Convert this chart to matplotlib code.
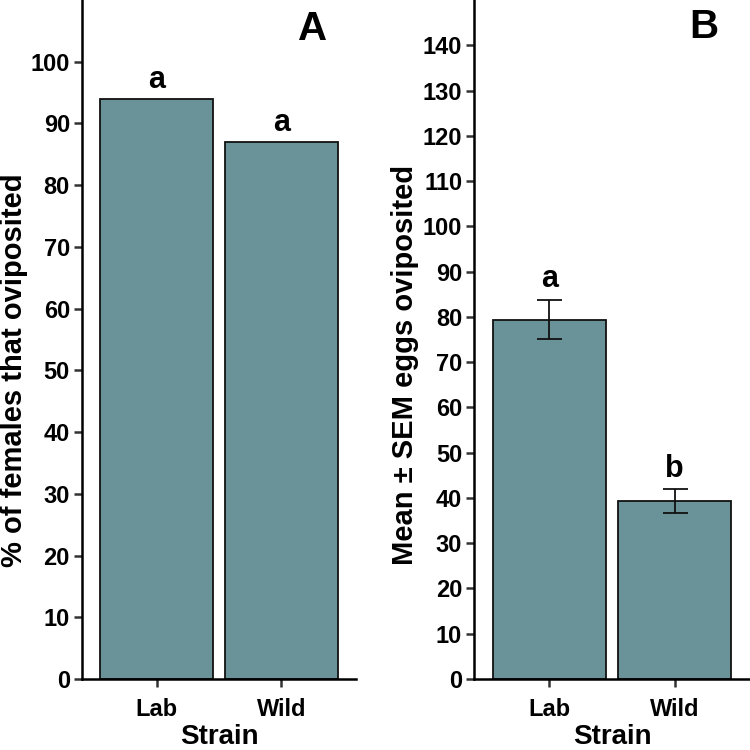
import matplotlib
matplotlib.use('Agg')
import matplotlib.pyplot as plt

strains = ['Lab', 'Wild']
pct_oviposited = [94, 87]
pct_letters = ['a', 'a']
mean_eggs = [79.4, 39.3]
sem_eggs = [4.4, 2.6]
egg_letters = ['a', 'b']

plt.rcParams['font.family'] = ['Liberation Sans', 'DejaVu Sans']
plt.rcParams['font.weight'] = 'bold'

bar_color = '#6a9399'
fig = plt.figure(figsize=(7.5, 7.5), dpi=100)
axA = fig.add_axes([0.109, 0.0947, 0.366, 0.9053])
axB = fig.add_axes([0.632, 0.0947, 0.368, 0.9053])


def style(ax, ymax, step):
    for s in ['top', 'right']:
        ax.spines[s].set_visible(False)
    for s in ['left', 'bottom']:
        ax.spines[s].set_linewidth(1.8)
        ax.spines[s].set_color('black')
    ax.set_xlim(0.4, 2.6)
    ax.set_ylim(0, ymax)
    ax.set_xticks([1, 2])
    ax.set_xticklabels(strains)
    ax.set_yticks(range(0, int(ymax), step))
    ax.tick_params(length=5.5, width=1.8, color='#333333', labelsize=17)
    ax.tick_params(axis='x', pad=8)
    ax.tick_params(axis='y', pad=3)
    for lab in ax.get_xticklabels() + ax.get_yticklabels():
        lab.set_fontweight('bold')
    ax.set_xlabel('Strain', fontsize=20, fontweight='bold', labelpad=2)


x = [1, 2]
axA.bar(x, pct_oviposited, width=0.9, color=bar_color, edgecolor='#111111', linewidth=1.3)
for xi, v, t in zip(x, pct_oviposited, pct_letters):
    axA.text(xi, v + 0.6, t, ha='center', va='bottom', fontsize=22, fontweight='bold')
style(axA, 110, 10)
axA.set_ylabel('% of females that oviposited', fontsize=21, fontweight='bold')
axA.yaxis.set_label_coords(-0.195, 0.455)
axA.text(0.84, 0.957, 'A', transform=axA.transAxes, ha='center', va='center',
         fontsize=29, fontweight='bold')

axB.bar(x, mean_eggs, width=0.9, color=bar_color, edgecolor='#111111', linewidth=1.3)
axB.errorbar(x, mean_eggs, yerr=sem_eggs, fmt='none', ecolor='#111111',
             elinewidth=1.3, capsize=9, capthick=1.3)
for xi, v, e, t in zip(x, mean_eggs, sem_eggs, egg_letters):
    axB.text(xi, v + e + 1.2, t, ha='center', va='bottom', fontsize=22, fontweight='bold')
style(axB, 150, 10)
axB.set_ylabel('Mean \u00b1 SEM eggs oviposited', fontsize=21, fontweight='bold')
axB.yaxis.set_label_coords(-0.2, 0.462)
axB.text(0.833, 0.96, 'B', transform=axB.transAxes, ha='center', va='center',
         fontsize=29, fontweight='bold')

fig.savefig('out.png', dpi=100)
